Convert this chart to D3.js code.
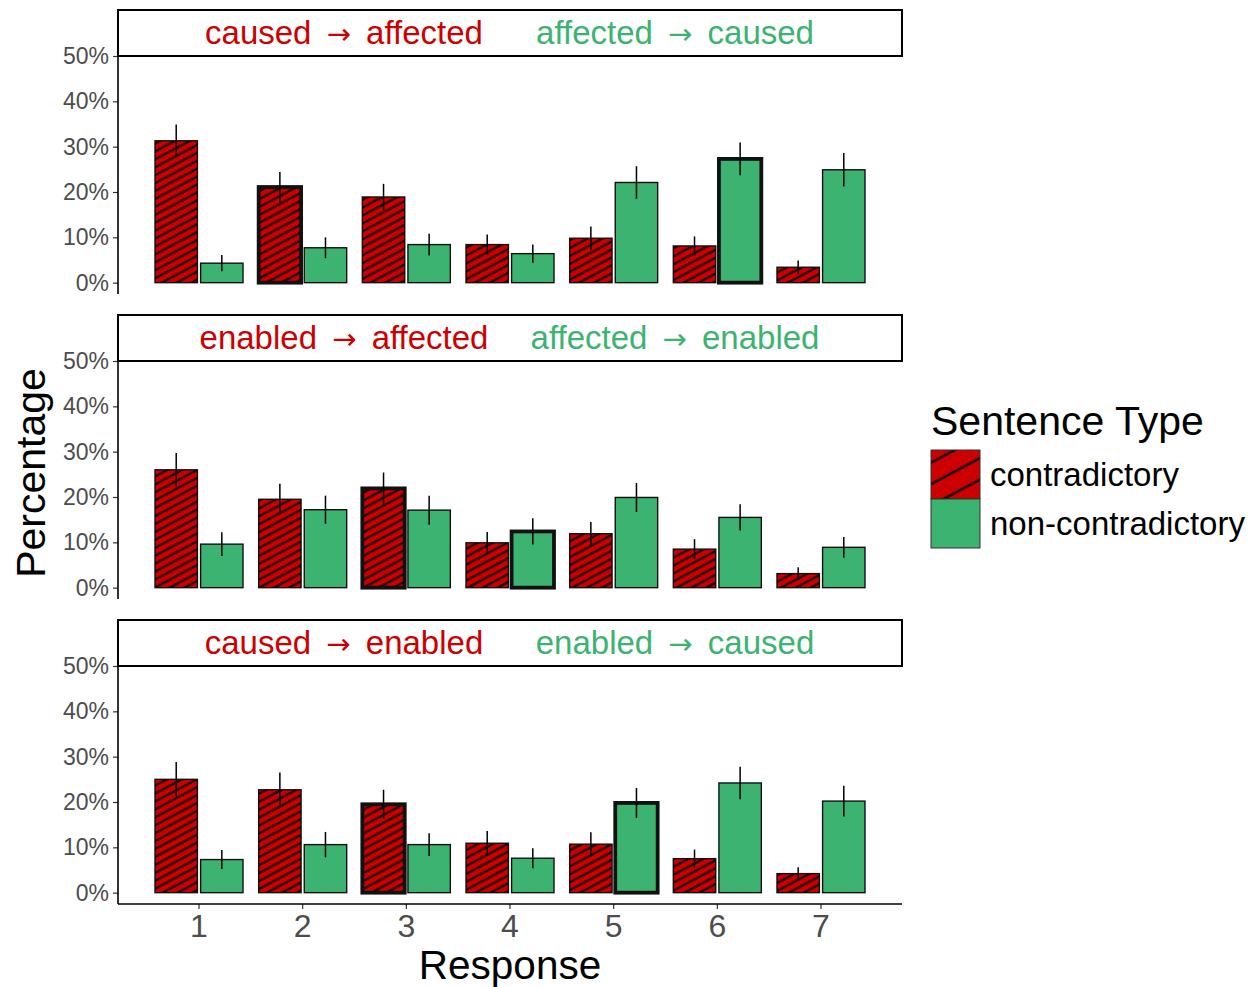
<!DOCTYPE html>
<html>
<head>
<meta charset="utf-8">
<script src="https://cdn.jsdelivr.net/npm/d3@7"></script>
<style>
  html, body { margin: 0; padding: 0; background: #fff; }
  #chart { width: 1257px; height: 987px; }
</style>
</head>
<body>
<div id="chart"></div>
<script>
// ---- data (percentages) ----
const responses = ['1', '2', '3', '4', '5', '6', '7'];
const sentenceTypes = ['contradictory', 'non-contradictory'];
// strip labels: [from, to] pairs, drawn as "from → to"
const stripLeft = [['caused', 'affected'], ['enabled', 'affected'], ['caused', 'enabled']];
const stripRight = [['affected', 'caused'], ['affected', 'enabled'], ['enabled', 'caused']];
const contraPct = [
    [31.3, 21.1, 18.9, 8.4, 9.8, 8.1, 3.4],
    [26.0, 19.5, 21.9, 9.9, 11.9, 8.5, 3.1],
    [25.0, 22.7, 19.5, 10.9, 10.7, 7.5, 4.2]
];
const contraErr = [
    [3.6, 3.3, 2.9, 2.2, 2.6, 2.1, 1.5],
    [3.7, 3.4, 3.5, 2.4, 2.6, 2.2, 1.4],
    [3.8, 3.8, 3.2, 2.7, 2.6, 2.0, 1.4]
];
const nonPct = [
    [4.3, 7.7, 8.4, 6.4, 22.1, 27.3, 24.9],
    [9.6, 17.2, 17.1, 12.4, 19.9, 15.5, 8.9],
    [7.3, 10.6, 10.6, 7.6, 19.8, 24.2, 20.2]
];
const nonErr = [
    [1.8, 2.3, 2.4, 2.0, 3.6, 3.6, 3.7],
    [2.6, 3.1, 3.2, 2.9, 3.2, 2.9, 2.3],
    [2.1, 2.8, 2.5, 2.2, 3.3, 3.6, 3.4]
];
// response whose bar gets the thick outline, per panel
const highlightContra = ['2', '3', '3'];
const highlightNon = ['6', '4', '5'];
const yTicks = [0, 0.1, 0.2, 0.3, 0.4, 0.5];

const RED = '#CC0000', GREEN = '#3CB371';
const FONT = '"Liberation Sans", Arial, Helvetica, sans-serif';

const svg = d3.select('#chart').append('svg')
    .attr('width', 1257).attr('height', 987);

// hatch patterns
const defs = svg.append('defs');
function hatch(id, gap, sw) {
    const p = defs.append('pattern').attr('id', id)
        .attr('patternUnits', 'userSpaceOnUse')
        .attr('width', 20).attr('height', gap)
        .attr('patternTransform', 'rotate(-28)');
    p.append('rect').attr('width', 20).attr('height', gap).attr('fill', RED);
    p.append('line').attr('x1', 0).attr('x2', 20).attr('y1', gap / 2).attr('y2', gap / 2)
        .attr('stroke', '#000').attr('stroke-width', sw);
}
hatch('hatchBar', 7, 2);
hatch('hatchKey', 19, 2.2);

const left = 118, right = 902;
const x = d3.scaleBand().domain(responses).range([left, right])
    .paddingInner(0.151).paddingOuter(0.357);
const xSub = d3.scaleBand().domain(sentenceTypes).range([0, x.bandwidth()])
    .paddingInner(0.07).paddingOuter(0);

const panelStep = 305, stripTop0 = 10, stripH = 46, plotH = 238;

function stripLabel(g, cx, cy, pair, color) {
    const t = g.append('text').attr('x', cx).attr('y', cy)
        .attr('text-anchor', 'middle').attr('font-size', 33).attr('font-family', FONT)
        .attr('fill', color);
    t.append('tspan').text(pair[0] + ' ');
    t.append('tspan').attr('dx', 6).attr('font-family', '"DejaVu Sans", sans-serif')
        .attr('font-size', 29).text('→');
    t.append('tspan').attr('dx', 6).text(' ' + pair[1]);
}

stripLeft.forEach((_, pi) => {
    const stripTop = stripTop0 + pi * panelStep;
    const plotTop = stripTop + stripH;
    const plotBottom = plotTop + plotH;
    const y = d3.scaleLinear().domain([-0.025, 0.5]).range([plotBottom, plotTop]);
    const g = svg.append('g');

    const rows = [];
    responses.forEach((r, i) => {
        rows.push({ r, type: 'contradictory', v: contraPct[pi][i] / 100, e: contraErr[pi][i] / 100,
            hl: highlightContra[pi] === r });
        rows.push({ r, type: 'non-contradictory', v: nonPct[pi][i] / 100, e: nonErr[pi][i] / 100,
            hl: highlightNon[pi] === r });
    });

    // bars
    g.selectAll('rect.bar').data(rows).join('rect').attr('class', 'bar')
        .attr('x', d => x(d.r) + xSub(d.type))
        .attr('width', xSub.bandwidth())
        .attr('y', d => y(d.v))
        .attr('height', d => y(0) - y(d.v))
        .attr('fill', d => d.type === 'contradictory' ? 'url(#hatchBar)' : GREEN)
        .attr('stroke', '#111')
        .attr('stroke-width', d => d.hl ? 3.8 : 1.4);

    // error bars
    g.selectAll('line.err').data(rows).join('line').attr('class', 'err')
        .attr('x1', d => x(d.r) + xSub(d.type) + xSub.bandwidth() / 2)
        .attr('x2', d => x(d.r) + xSub(d.type) + xSub.bandwidth() / 2)
        .attr('y1', d => y(d.v - d.e))
        .attr('y2', d => y(d.v + d.e))
        .attr('stroke', '#000').attr('stroke-width', 1.5);

    // y axis
    g.append('g').attr('transform', `translate(${left},0)`)
        .call(d3.axisLeft(y).tickValues(yTicks).tickSize(5).tickPadding(4).tickFormat(d3.format('.0%')))
        .call(ax => ax.select('.domain').remove())
        .call(ax => ax.selectAll('line').attr('stroke', '#333').attr('stroke-width', 1.2))
        .call(ax => ax.selectAll('text').attr('fill', '#4D4D4D').attr('font-size', 23)
            .attr('font-family', FONT));
    g.append('line').attr('x1', left).attr('x2', left)
        .attr('y1', plotTop).attr('y2', plotBottom)
        .attr('stroke', '#000').attr('stroke-width', 1.6);

    // strip
    g.append('rect').attr('x', left).attr('y', stripTop)
        .attr('width', right - left).attr('height', stripH)
        .attr('fill', '#fff').attr('stroke', '#000').attr('stroke-width', 2);
    stripLabel(g, 344, stripTop + stripH / 2 + 11, stripLeft[pi], RED);
    stripLabel(g, 675, stripTop + stripH / 2 + 11, stripRight[pi], GREEN);

    // x axis on bottom panel
    if (pi === stripLeft.length - 1) {
        g.append('g').attr('transform', `translate(0,${plotBottom})`)
            .call(d3.axisBottom(x).tickSize(5).tickPadding(5))
            .call(ax => ax.select('.domain').remove())
            .call(ax => ax.selectAll('line').attr('stroke', '#333').attr('stroke-width', 1.2))
            .call(ax => ax.selectAll('text').attr('fill', '#4D4D4D').attr('font-size', 32)
                .attr('font-family', FONT));
        g.append('line').attr('x1', left).attr('x2', right)
            .attr('y1', plotBottom).attr('y2', plotBottom)
            .attr('stroke', '#000').attr('stroke-width', 1.6);
    }
});

// axis titles
svg.append('text').attr('x', 510).attr('y', 979)
    .attr('text-anchor', 'middle').attr('font-size', 40.5).attr('font-family', FONT)
    .attr('fill', '#000').text('Response');
svg.append('text').attr('transform', 'translate(45,473) rotate(-90)')
    .attr('text-anchor', 'middle').attr('font-size', 41).attr('font-family', FONT)
    .attr('fill', '#000').text('Percentage');

// legend
const leg = svg.append('g').attr('transform', 'translate(931,0)');
leg.append('text').attr('x', 0).attr('y', 435)
    .attr('font-size', 41).attr('font-family', FONT).attr('fill', '#000').text('Sentence Type');
sentenceTypes.forEach((t, i) => {
    const ky = 450 + i * 49;
    leg.append('rect').attr('x', 0).attr('y', ky).attr('width', 49).attr('height', 49)
        .attr('fill', t === 'contradictory' ? 'url(#hatchKey)' : GREEN)
        .attr('stroke', '#333').attr('stroke-width', 1);
    leg.append('text').attr('x', 59).attr('y', ky + 36)
        .attr('font-size', 33).attr('font-family', FONT).attr('fill', '#000').text(t);
});
</script>
</body>
</html>
